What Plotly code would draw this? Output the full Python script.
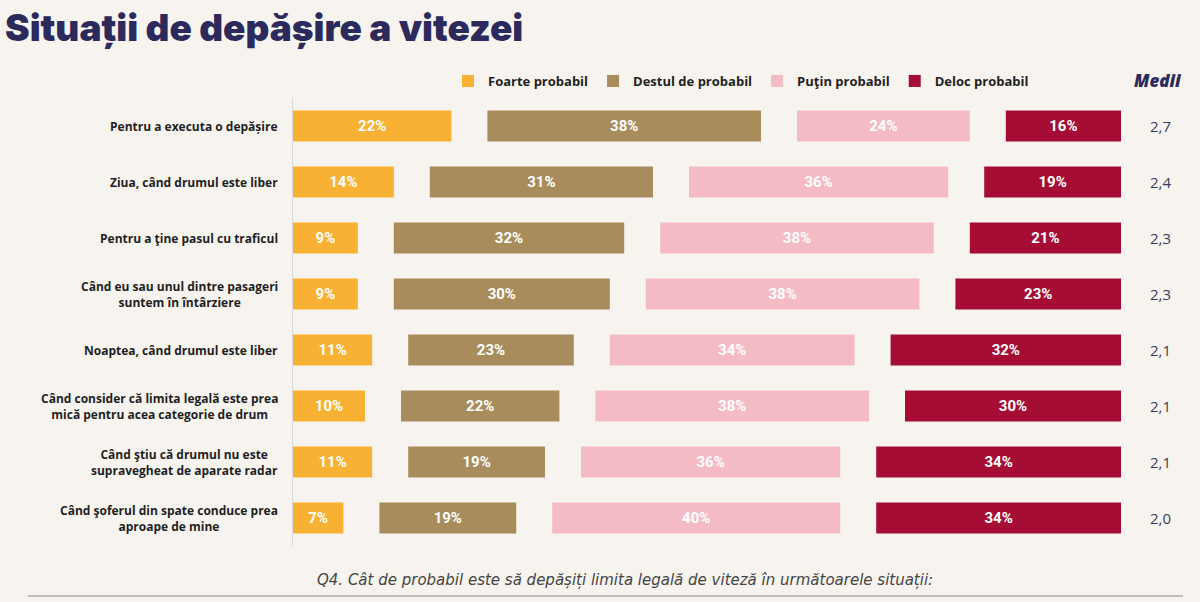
import plotly.graph_objects as go

categories = [
    "Pentru a executa o depășire",
    "Ziua, când drumul este liber",
    "Pentru a ţine pasul cu traficul",
    "Când eu sau unul dintre pasageri<br>suntem în întârziere",
    "Noaptea, când drumul este liber",
    "Când consider că limita legală este prea<br>mică pentru acea categorie de drum",
    "Când ştiu că drumul nu este<br>supravegheat de aparate radar",
    "Când şoferul din spate conduce prea<br>aproape de mine",
]
series_names = ["Foarte probabil", "Destul de probabil", "Puţin probabil", "Deloc probabil"]
foarte = [22, 14, 9, 9, 11, 10, 11, 7]
destul = [38, 31, 32, 30, 23, 22, 19, 19]
putin = [24, 36, 38, 38, 34, 38, 36, 40]
deloc = [16, 19, 21, 23, 32, 30, 34, 34]
medii = ["2,7", "2,4", "2,3", "2,3", "2,1", "2,1", "2,1", "2,0"]

title_text = "Situații de depășire a vitezei"
footer_text = "Q4. Cât de probabil este să depășiți limita legală de viteză în următoarele situații:"

colors = ["#f8b133", "#a98c5b", "#f5bbc4", "#a50d35"]
GAP = 5  # visual gap between segments (in % units)
BG = "#f7f4ef"
NAVY = "#2c2a5c"

# plot-area geometry (pixels)
L, R, T, B = 293, 1121, 98, 546
W, H = R - L, B - T


def px_x(x):
    return (x - L) / W


def px_y(y):
    return (B - y) / H


fig = go.Figure()
series = [foarte, destul, putin, deloc]
running = [0] * len(categories)
for j, (name, vals, col) in enumerate(zip(series_names, series, colors)):
    bases = [running[i] + j * GAP for i in range(len(categories))]
    fig.add_trace(go.Bar(
        y=categories, x=vals, base=bases, orientation="h", name=name,
        marker=dict(color=col, line=dict(width=0)),
        text=[f"{v}%" for v in vals], textposition="inside",
        insidetextanchor="middle", textangle=0,
        textfont=dict(color="white", size=15,
                      family="Liberation Sans Narrow, Roboto, sans-serif", weight=700),
        hoverinfo="skip",
    ))
    running = [running[i] + vals[i] for i in range(len(categories))]

annotations = []
for cat in categories:
    annotations.append(dict(
        x=0, y=cat, xref="paper", yref="y", xanchor="right", yanchor="middle",
        xshift=-13, text=cat, showarrow=False, align="center",
        font=dict(family="Open Sans, sans-serif", size=12, color="#1f1f1f", weight=700),
    ))
for cat, m in zip(categories, medii):
    annotations.append(dict(
        x=px_x(1160), y=cat, xref="paper", yref="y", xanchor="center", yanchor="middle",
        text=m, showarrow=False,
        font=dict(family="Open Sans, sans-serif", size=15, color="#3d3b5a"),
    ))
annotations.append(dict(
    x=px_x(1158), y=px_y(81), xref="paper", yref="paper", text="Medii",
    showarrow=False, xanchor="center", yanchor="middle",
    font=dict(family="Open Sans, sans-serif", size=17, color=NAVY, weight=800, style="italic"),
))
annotations.append(dict(
    x=px_x(625), y=px_y(580), xref="paper", yref="paper", text=footer_text,
    showarrow=False, xanchor="center", yanchor="middle",
    font=dict(family="DejaVu Sans, sans-serif", size=15, color="#444444", style="italic"),
))

fig.update_layout(
    width=1200, height=602,
    paper_bgcolor=BG, plot_bgcolor=BG,
    margin=dict(l=L, r=1200 - R, t=T, b=602 - B, autoexpand=False),
    barmode="overlay", bargap=0.45,
    showlegend=True,
    legend=dict(orientation="h", xref="container", yref="container",
                x=448 / 1200, y=1 - 81 / 602, xanchor="left", yanchor="middle",
                font=dict(family="Open Sans, sans-serif", size=13, color="#1f1f1f", weight=700),
                itemwidth=30, bgcolor="rgba(0,0,0,0)", traceorder="normal"),
    title=dict(text=title_text, xref="container", yref="container",
               x=5 / 1200, y=1 - 28 / 602, xanchor="left", yanchor="middle",
               font=dict(family="Inter, sans-serif", size=37, color=NAVY, weight=900)),
    xaxis=dict(range=[0, 100 + 3 * GAP], visible=False, fixedrange=True),
    yaxis=dict(autorange="reversed", showticklabels=False, showgrid=False,
               zeroline=False, showline=True, linecolor="#d6d9e2", linewidth=1),
    annotations=annotations,
    shapes=[dict(type="line", xref="paper", yref="paper",
                 x0=px_x(28), x1=px_x(1183), y0=px_y(596), y1=px_y(596),
                 line=dict(color="#8a8a8a", width=1.2))],
)

fig.write_html("out.html")
